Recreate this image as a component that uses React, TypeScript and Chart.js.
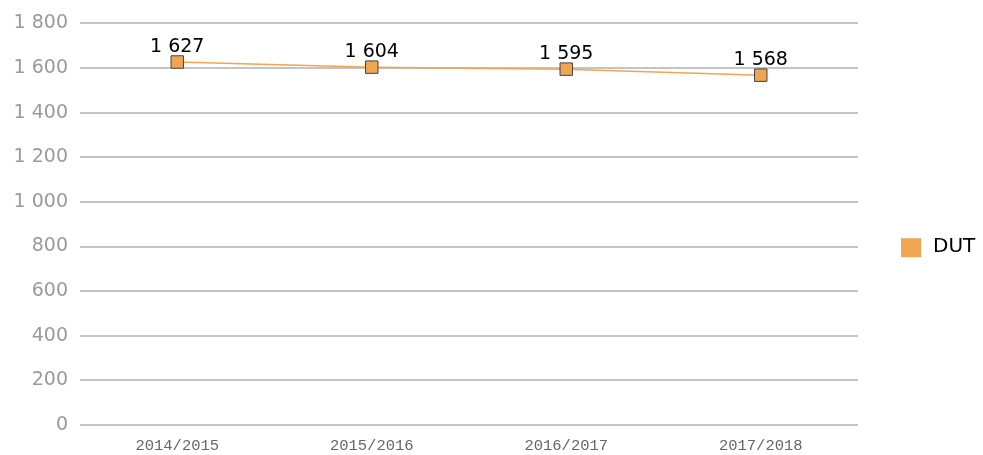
import React, { useEffect, useRef } from "react";
import { Chart, registerables } from "chart.js";

Chart.register(...registerables);

const categories = ["2014/2015", "2015/2016", "2016/2017", "2017/2018"];
const seriesName = "DUT";
const dutValues = [1627, 1604, 1595, 1568];
const yTicks = [0, 200, 400, 600, 800, 1000, 1200, 1400, 1600, 1800];

const ORANGE = "#f0a553";

const fmt = (v: number) => String(v).replace(/\B(?=(\d{3})+(?!\d))/g, " ");

const valueLabels = {
  id: "valueLabels",
  afterDatasetsDraw(chart: any) {
    const ctx = chart.ctx;
    const meta = chart.getDatasetMeta(0);
    ctx.save();
    ctx.font = "19px 'DejaVu Sans'";
    ctx.fillStyle = "#000";
    ctx.textAlign = "center";
    ctx.textBaseline = "alphabetic";
    meta.data.forEach((pt: any, i: number) => {
      ctx.fillText(fmt(chart.data.datasets[0].data[i]), pt.x, pt.y - 10);
    });
    ctx.restore();
  },
};

const sideLegend = {
  id: "sideLegend",
  afterDraw(chart: any) {
    const ctx = chart.ctx;
    const cy = (chart.chartArea.top + chart.chartArea.bottom) / 2 + 23;
    ctx.save();
    ctx.fillStyle = ORANGE;
    ctx.fillRect(901, cy - 9, 20, 19);
    ctx.font = "20px 'DejaVu Sans'";
    ctx.fillStyle = "#000";
    ctx.textAlign = "left";
    ctx.textBaseline = "middle";
    ctx.fillText(seriesName, 933, cy);
    ctx.restore();
  },
};

export default function App() {
  const ref = useRef<HTMLCanvasElement>(null);
  useEffect(() => {
    if (!ref.current) return;
    const chart = new Chart(ref.current, {
      type: "line",
      data: {
        labels: categories,
        datasets: [
          {
            label: seriesName,
            data: dutValues,
            borderColor: ORANGE,
            borderWidth: 1.5,
            backgroundColor: ORANGE,
            pointStyle: "rect",
            pointRadius: 8.8,
            pointBorderColor: "#444",
            pointBorderWidth: 1,
            pointBackgroundColor: ORANGE,
            tension: 0,
          },
        ],
      },
      options: {
        animation: false,
        responsive: false,
        maintainAspectRatio: false,
        layout: { padding: { top: 23, right: 125, left: 0, bottom: 0 } },
        plugins: {
          legend: { display: false },
          tooltip: { enabled: false },
        },
        scales: {
          x: {
            offset: true,
            grid: { display: false, drawTicks: false },
            border: { display: false },
            ticks: {
              color: "#666",
              font: { family: "'Liberation Mono'", size: 15.5 },
              padding: 12,
              maxRotation: 0,
            },
            afterFit(scale: any) {
              scale.height = 30;
            },
          },
          y: {
            min: 0,
            max: 1800,
            afterBuildTicks(scale: any) {
              scale.ticks = yTicks.map((v) => ({ value: v }));
            },
            grid: { color: "#c4c4c4", lineWidth: 2, drawTicks: false },
            border: { display: false },
            ticks: {
              color: "#9a9a9a",
              font: { family: "'DejaVu Sans'", size: 19 },
              padding: 12,
              callback: (v: any) => fmt(Number(v)),
            },
            afterFit(scale: any) {
              scale.width = 80;
            },
          },
        },
      },
      plugins: [valueLabels, sideLegend],
    });
    return () => chart.destroy();
  }, []);
  return (
    <div style={{ position: "fixed", left: 0, top: 0, width: 983, height: 455, background: "#fff" }}>
      <canvas ref={ref} width={983} height={455} style={{ width: 983, height: 455 }} />
    </div>
  );
}
